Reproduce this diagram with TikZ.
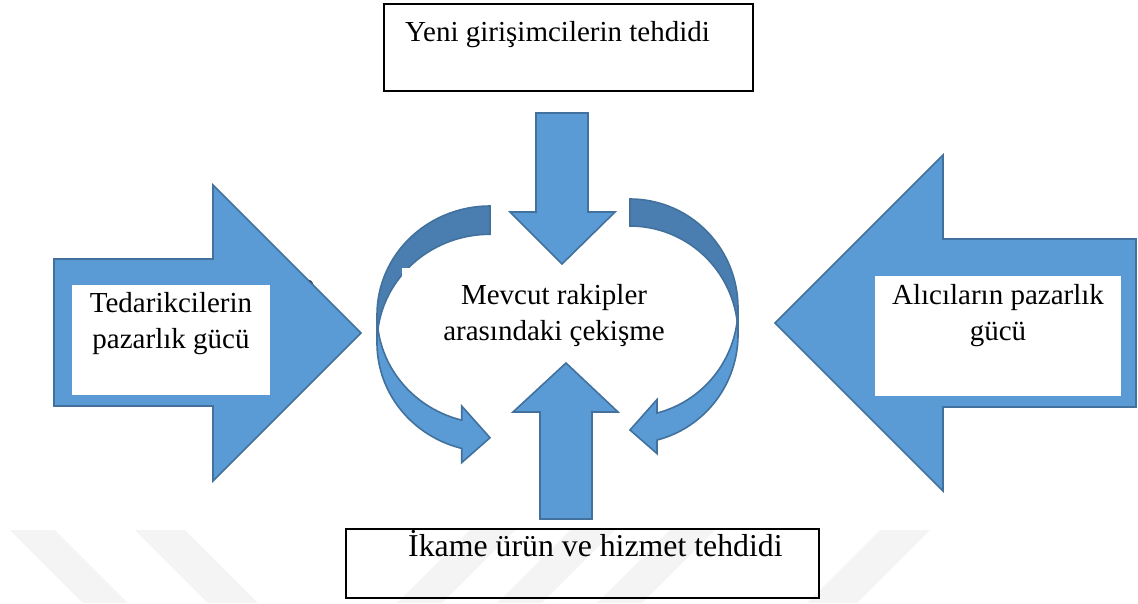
\documentclass[tikz,border=0pt]{standalone}
\usepackage{fontspec}
\setmainfont{Liberation Serif}
\definecolor{arrowfill}{HTML}{5B9BD5}
\definecolor{arrowline}{HTML}{41719C}
\definecolor{arrowdark}{HTML}{4A7EB0}
\begin{document}
\begin{tikzpicture}[x=1pt,y=-1pt,
  blockarrow/.style={fill=arrowfill, draw=arrowline, line width=1.6pt, line join=miter},
  backface/.style={fill=arrowdark, draw=arrowline, line width=1.6pt, line join=miter},
  labelbox/.style={draw=black, line width=2.2pt, fill=white, inner sep=0pt},
  whitepad/.style={fill=white, draw=none, inner sep=0pt},
  lbl/.style={font=\fontsize{29}{36}\selectfont, align=center, inner sep=0pt},
  biglbl/.style={font=\fontsize{31.8}{38}\selectfont, inner sep=0pt},
  wm/.style={fill=black, fill opacity=0.045}]
\useasboundingbox (0,0) rectangle (1138,603);
\fill[white] (0,0) rectangle (1138,603);

% small stray mark beside the left arrow head
\draw[line width=1.6pt] (307.5,280.5) .. controls (311.5,280.5) and (313,284) .. (312.5,288);

% supplier power: block arrow pointing right
\filldraw[blockarrow] (54,259) -- (213,259) -- (213,185) -- (361,333)
  -- (213,481) -- (213,406) -- (54,406) -- cycle;
\node[whitepad, minimum width=198pt, minimum height=110pt, anchor=north west]
  (suppad) at (72,285) {};
\node[lbl, anchor=base] (suppliers) at (171,348) {Tedarikcilerin\\pazarlık gücü};

% buyer power: block arrow pointing left
\filldraw[blockarrow] (1136,239) -- (943,239) -- (943,155) -- (775,323)
  -- (943,491) -- (943,407) -- (1136,407) -- cycle;
\node[whitepad, minimum width=246pt, minimum height=120pt, anchor=north west]
  (buypad) at (875,276) {};
\node[lbl, anchor=base] (buyers) at (998,340) {Alıcıların pazarlık\\gücü};

% new entrants box and its arrow
\node[labelbox, minimum width=369pt, minimum height=87pt, anchor=north west]
  (entbox) at (383,3) {};
\node[lbl, anchor=base west] (entrants) at (405,41) {Yeni girişimcilerin tehdidi};
\filldraw[blockarrow] (536,113) -- (588,113) -- (588,212) -- (615,212)
  -- (562,264) -- (510,212) -- (536,212) -- cycle;

% substitutes box
\node[labelbox, minimum width=473pt, minimum height=69pt, anchor=north west]
  (subbox) at (345,528) {};
\node[biglbl, anchor=base west] (substitutes) at (408,556) {İkame ürün ve hizmet tehdidi};

% curved arrow on the left: front face, then back face
\filldraw[blockarrow] (377,314.81)
  -- plot[variable=\t, domain=0:1, samples=40]
     ({490+113*cos(180-75.52*\t)}, {314.81+108.81*sin(180-75.52*\t)})
  -- (461.75,406.05) -- (490,437.75) -- (461.75,462.55) -- (461.75,448.42)
  -- plot[variable=\t, domain=0:1, samples=40]
     ({490+113*cos(104.48+75.52*\t)}, {343.06+108.81*sin(104.48+75.52*\t)})
  -- cycle;
\filldraw[backface] (490,206)
  -- plot[variable=\t, domain=0:1, samples=40]
     ({490+113*cos(270-90*\t)}, {314.81+108.81*sin(270-90*\t)})
  -- (377,343.06)
  -- plot[variable=\t, domain=0:1, samples=40]
     ({490+113*cos(180+90*\t)}, {343.06+108.81*sin(180+90*\t)})
  -- cycle;

% curved arrow on the right: front face, then back face
\filldraw[blockarrow] (738,307.75)
  -- plot[variable=\t, domain=0:1, samples=40]
     ({630+108*cos(75.52*\t)}, {307.75+108.75*sin(75.52*\t)})
  -- (657,399.55) -- (630,430) -- (657,453.55) -- (657,440.05)
  -- plot[variable=\t, domain=0:1, samples=40]
     ({630+108*cos(75.52-75.52*\t)}, {334.75+108.75*sin(75.52-75.52*\t)})
  -- cycle;
\filldraw[backface] (630,199)
  -- plot[variable=\t, domain=0:1, samples=40]
     ({630+108*cos(270+90*\t)}, {307.75+108.75*sin(270+90*\t)})
  -- (738,334.75)
  -- plot[variable=\t, domain=0:1, samples=40]
     ({630+108*cos(360-90*\t)}, {334.75+108.75*sin(360-90*\t)})
  -- cycle;

% rivalry label on its white pad
\node[whitepad, minimum width=304pt, minimum height=92pt, anchor=north west]
  (rivpad) at (402,268) {};
\node[lbl, anchor=base] (rivalry) at (554,340) {Mevcut rakipler\\arasındaki çekişme};

% substitutes arrow pointing up
\filldraw[blockarrow] (540,519) -- (592,519) -- (592,412) -- (618,412)
  -- (566,363) -- (513,412) -- (540,412) -- cycle;

% faint diagonal watermark bands laid over the bottom edge
\fill[wm] (10,530) -- (55,530) -- (128,603) -- (83,603) -- cycle;
\fill[wm] (135,530) -- (185,530) -- (258,603) -- (208,603) -- cycle;
\fill[wm] (470,530) -- (515,530) -- (442,603) -- (397,603) -- cycle;
\fill[wm] (570,530) -- (615,530) -- (542,603) -- (497,603) -- cycle;
\fill[wm] (670,530) -- (715,530) -- (642,603) -- (597,603) -- cycle;
\fill[wm] (880,530) -- (930,530) -- (857,603) -- (807,603) -- cycle;
\end{tikzpicture}
\end{document}
